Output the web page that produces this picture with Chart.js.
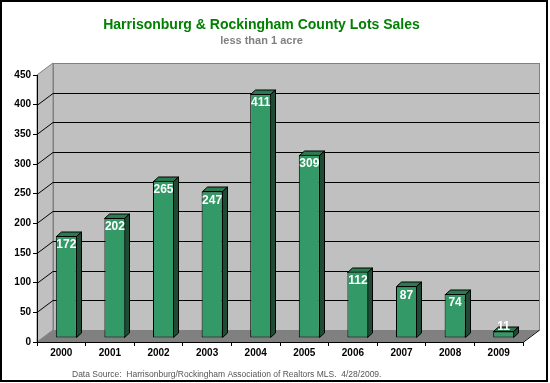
<!DOCTYPE html>
<html>
<head>
<meta charset="utf-8">
<script src="https://cdn.jsdelivr.net/npm/chart.js@4"></script>
<style>
html,body{margin:0;padding:0;background:#fff;}
canvas{display:block;}
</style>
</head>
<body>
<canvas id="c" width="550" height="383"></canvas>
<script>
const categories = ['2000','2001','2002','2003','2004','2005','2006','2007','2008','2009'];
const lotSales = [172, 202, 265, 247, 411, 309, 112, 87, 74, 11];
const yTickValues = [0, 50, 100, 150, 200, 250, 300, 350, 400, 450];
const titleText = 'Harrisonburg & Rockingham County Lots Sales';
const subtitleText = 'less than 1 acre';
const footerText = 'Data Source:  Harrisonburg/Rockingham Association of Realtors MLS.  4/28/2009.';

const FONT = '"Liberation Sans", Arial, sans-serif';
const DX = 16, DY = -12;   // wall depth
const BX = 5, BY = -4;     // bar front plane offset
const BDX = 5, BDY = -4.5; // bar depth

const threeD = {
  id: 'threeD',
  beforeDraw(chart) {
    const ctx = chart.ctx, ca = chart.chartArea, y = chart.scales.y;
    const L = ca.left, R = ca.right;
    const yTop = y.getPixelForValue(yTickValues[yTickValues.length - 1]);
    const y0 = y.getPixelForValue(0);
    ctx.save();
    ctx.fillStyle = '#c0c0c0';
    ctx.strokeStyle = '#808080';
    ctx.lineWidth = 1;
    ctx.fillRect(L + DX, yTop + DY, R - L, y0 - yTop);
    ctx.strokeRect(L + DX + 0.5, yTop + DY + 0.5, R - L, y0 - yTop);
    ctx.beginPath();
    ctx.moveTo(L, yTop); ctx.lineTo(L + DX, yTop + DY); ctx.lineTo(L + DX, y0 + DY); ctx.lineTo(L, y0); ctx.closePath();
    ctx.fill(); ctx.stroke();
    ctx.fillStyle = '#808080';
    ctx.beginPath();
    ctx.moveTo(L, y0); ctx.lineTo(R, y0); ctx.lineTo(R + DX, y0 + DY); ctx.lineTo(L + DX, y0 + DY); ctx.closePath();
    ctx.fill();
    ctx.strokeStyle = '#000';
    ctx.beginPath(); ctx.moveTo(R, y0 + 0.5); ctx.lineTo(R + DX, y0 + DY + 0.5); ctx.stroke();
    ctx.strokeStyle = '#000';
    yTickValues.forEach(v => {
      if (v === 0 || v === yTickValues[yTickValues.length - 1]) return;
      const py = Math.round(y.getPixelForValue(v)) + 0.5;
      ctx.beginPath();
      ctx.moveTo(L, py); ctx.lineTo(L + DX, py + DY);
      ctx.lineTo(R + DX, py + DY);
      ctx.stroke();
    });
    ctx.restore();
  },
  beforeDatasetsDraw(chart) {
    const ctx = chart.ctx;
    const meta = chart.getDatasetMeta(0);
    ctx.save();
    ctx.translate(BX, BY);
    ctx.lineWidth = 1;
    ctx.strokeStyle = '#000';
    meta.data.forEach(el => {
      const p = el.getProps(['x', 'y', 'base', 'width'], true);
      const l = Math.round(p.x - p.width / 2) + 0.5, r = Math.round(p.x + p.width / 2) - 0.5;
      const t = Math.round(p.y) + 0.5, b = Math.round(p.base) - 0.5;
      ctx.fillStyle = '#2b7a50';
      ctx.beginPath();
      ctx.moveTo(l, t); ctx.lineTo(l + BDX, t + BDY); ctx.lineTo(r + BDX, t + BDY); ctx.lineTo(r, t); ctx.closePath();
      ctx.fill(); ctx.stroke();
      ctx.fillStyle = '#1d4b33';
      ctx.beginPath();
      ctx.moveTo(r, t); ctx.lineTo(r + BDX, t + BDY); ctx.lineTo(r + BDX, b + BDY); ctx.lineTo(r, b); ctx.closePath();
      ctx.fill(); ctx.stroke();
    });
  },
  afterDatasetsDraw(chart) {
    const ctx = chart.ctx;
    ctx.restore();
    const meta = chart.getDatasetMeta(0);
    ctx.save();
    ctx.fillStyle = '#fff';
    ctx.font = 'bold 12px ' + FONT;
    ctx.textAlign = 'center';
    ctx.textBaseline = 'middle';
    meta.data.forEach((el, i) => {
      const p = el.getProps(['x', 'y', 'base'], true);
      const cx = p.x + BX, top = p.y + BY, base = p.base + BY;
      let ly = top + 9;
      if (ly + 6 > base) ly = base - 11;
      ctx.fillText(String(lotSales[i]), cx, ly);
    });
    ctx.restore();
  },
  afterDraw(chart) {
    const ctx = chart.ctx;
    ctx.save();
    ctx.fillStyle = '#555';
    ctx.font = '8.5px ' + FONT;
    ctx.textAlign = 'left';
    ctx.textBaseline = 'middle';
    ctx.fillText(footerText, 72, 375);
    ctx.strokeStyle = '#000';
    ctx.lineWidth = 2;
    ctx.strokeRect(1, 1, 546, 380);
    ctx.restore();
  }
};

new Chart(document.getElementById('c'), {
  type: 'bar',
  data: {
    labels: categories,
    datasets: [{
      data: lotSales,
      backgroundColor: '#339966',
      borderColor: '#000',
      borderWidth: 1,
      borderSkipped: false,
      barPercentage: 0.432,
      categoryPercentage: 1.0
    }]
  },
  options: {
    responsive: false,
    animation: false,
    devicePixelRatio: 1,
    layout: { padding: { left: 0, right: 27, top: 0, bottom: 21 } },
    plugins: {
      legend: { display: false },
      tooltip: { enabled: false },
      title: {
        display: true, text: titleText, color: '#008000',
        font: { family: FONT, size: 14, weight: 'bold', lineHeight: 1.2 },
        padding: { top: 16.6, bottom: 0 }
      },
      subtitle: {
        display: true, text: subtitleText, color: '#808080',
        font: { family: FONT, size: 11, weight: 'bold', lineHeight: 1.2 },
        padding: { top: 1, bottom: 27.4 }
      }
    },
    scales: {
      x: {
        offset: true,
        grid: { display: true, drawOnChartArea: false, drawTicks: true, tickLength: 4, color: '#000', offset: true },
        border: { display: true, color: '#000', width: 1 },
        ticks: { color: '#000', font: { family: FONT, size: 10, weight: 'bold' }, padding: 1, maxRotation: 0 },
        afterFit(s) { s.height = 20; }
      },
      y: {
        min: 0, max: 450,
        afterBuildTicks(s) { s.ticks = yTickValues.map(v => ({ value: v })); },
        grid: { display: true, drawOnChartArea: false, drawTicks: true, tickLength: 4, color: '#000' },
        border: { display: true, color: '#000', width: 1 },
        ticks: { color: '#000', font: { family: FONT, size: 10, weight: 'bold' }, padding: 2 },
        afterFit(s) { s.width = 37; }
      }
    }
  },
  plugins: [threeD]
});
</script>
</body>
</html>
